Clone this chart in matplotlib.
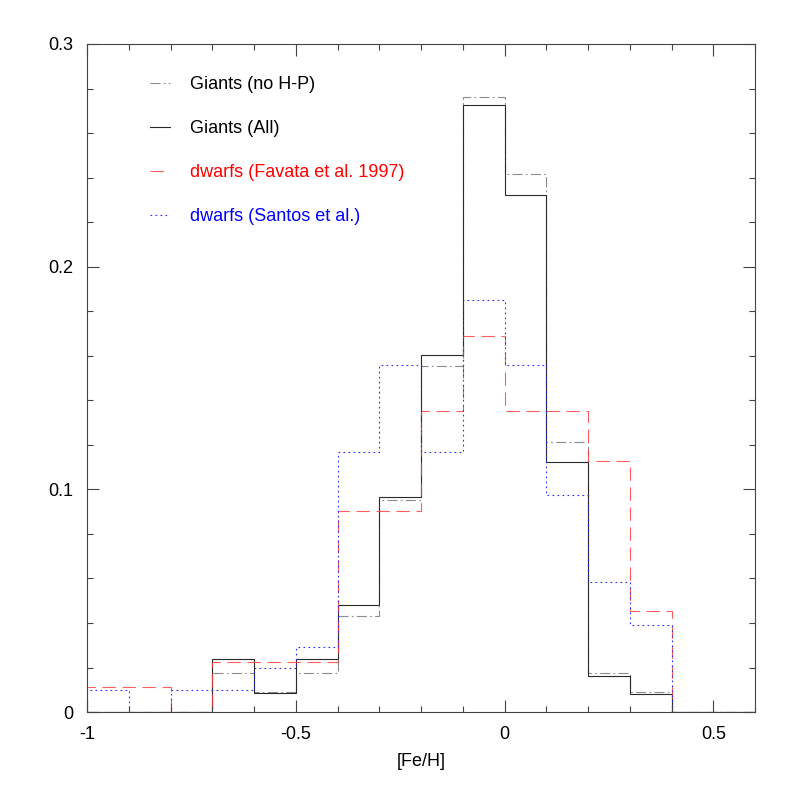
import matplotlib
matplotlib.use('Agg')
import matplotlib.pyplot as plt
import numpy as np

plt.rcParams['font.family'] = ['Liberation Sans', 'DejaVu Sans']
plt.rcParams['axes.unicode_minus'] = False

# bin edges in [Fe/H], 0.1 dex wide
edges = np.round(np.arange(-1.0, 0.61, 0.1), 2)

# fractions per bin
giants_nohp = [0, 0, 0, 0.0174, 0.0088, 0.0174, 0.0433, 0.0952, 0.1555,
               0.2763, 0.2416, 0.1211, 0.0174, 0.0088, 0, 0]
giants_all = [0, 0, 0, 0.0240, 0.0084, 0.0240, 0.0481, 0.0964, 0.1602,
              0.2724, 0.2322, 0.1123, 0.0162, 0.0082, 0, 0]
dwarfs_favata = [0.0112, 0.0112, 0, 0.0225, 0.0225, 0.0225, 0.0901, 0.0901, 0.1352,
                 0.1689, 0.1352, 0.1350, 0.1127, 0.0454, 0, 0]
dwarfs_santos = [0.0097, 0, 0.0097, 0.0097, 0.0196, 0.0293, 0.1166, 0.1557, 0.1166,
                 0.1849, 0.1557, 0.0973, 0.0585, 0.0389, 0, 0]

labels = ['Giants (no H-P)', 'Giants (All)',
          'dwarfs (Favata et al. 1997)', 'dwarfs (Santos et al.)']

fig = plt.figure(figsize=(7.97, 7.97), dpi=100)
ax = fig.add_axes([0.1092, 0.1066, 0.8381, 0.8382])

ax.stairs(giants_nohp, edges, baseline=0, color='#8c8c8c', lw=0.8,
          linestyle=(0, (9, 3, 1.5, 3)), label=labels[0])
ax.stairs(giants_all, edges, baseline=0, color='#2a2a2a', lw=0.8,
          linestyle='-', label=labels[1])
ax.stairs(dwarfs_favata, edges, baseline=0, color='#ff4040', lw=0.8,
          linestyle=(0, (12, 6)), label=labels[2], alpha=0.85)
ax.stairs(dwarfs_santos, edges, baseline=0, color='#2a2aff', lw=0.8,
          linestyle=(0, (1.5, 3)), label=labels[3])

ax.set_xlim(-1, 0.6)
ax.set_ylim(0, 0.3)

ax.set_xticks([-1, -0.5, 0, 0.5])
ax.set_xticks(np.arange(-1, 0.61, 0.1), minor=True)
ax.set_yticks([0, 0.1, 0.2, 0.3])
ax.set_yticks(np.arange(0, 0.301, 0.02), minor=True)
ax.xaxis.set_major_formatter(plt.FuncFormatter(lambda v, p: '%g' % v))
ax.yaxis.set_major_formatter(plt.FuncFormatter(lambda v, p: '%g' % v))

ax.tick_params(which='both', direction='in', top=True, right=True,
               color='#444444', width=0.8)
ax.tick_params(which='major', length=8.5, pad=10, labelsize=13)
ax.tick_params(which='minor', length=4.5)
for s in ax.spines.values():
    s.set_color('#444444')
    s.set_linewidth(0.8)

ax.set_xlabel('[Fe/H]', fontsize=13, labelpad=7)

leg = ax.legend(loc='upper left', bbox_to_anchor=(0.094, 0.952), frameon=False,
                fontsize=13, handlelength=1.1, handletextpad=1.15,
                labelspacing=1.5, borderpad=0, borderaxespad=0,
                labelcolor=['black', 'black', 'red', 'blue'])

fig.savefig('out.png', dpi=100)
